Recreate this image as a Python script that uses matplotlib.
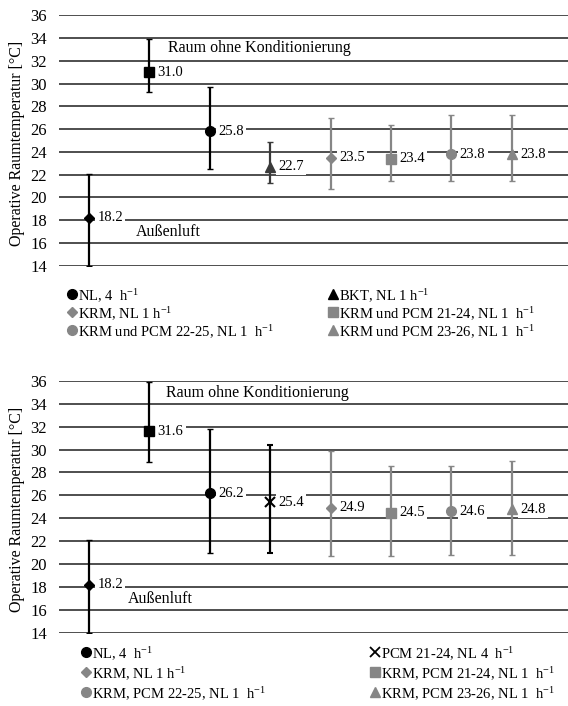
import matplotlib
matplotlib.use('Agg')
import matplotlib.pyplot as plt
from matplotlib.lines import Line2D

plt.rcParams['font.family'] = ['Liberation Serif', 'DejaVu Serif']
plt.rcParams['mathtext.fontset'] = 'custom'
plt.rcParams['mathtext.rm'] = 'Liberation Serif'
plt.rcParams['mathtext.it'] = 'Liberation Serif:italic'

BLACK = '#000000'
DARK = '#3a3a3a'
GRAY = '#868686'

# --- data: oberes Diagramm ---
top_mean = [18.2, 31.0, 25.8, 22.7, 23.5, 23.4, 23.8, 23.8]
top_lo = [14.0, 29.3, 22.5, 21.3, 20.7, 21.4, 21.4, 21.4]
top_hi = [22.1, 33.9, 29.7, 24.9, 27.0, 26.4, 27.2, 27.2]
top_markers = ['D', 's', 'o', '^', 'D', 's', 'o', '^']
top_colors = [BLACK, BLACK, BLACK, DARK, GRAY, GRAY, GRAY, GRAY]
top_legend = ['NL, 4  h$^{-1}$', 'KRM, NL 1 h$^{-1}$', 'KRM und PCM 22-25, NL 1  h$^{-1}$',
              'BKT, NL 1 h$^{-1}$', 'KRM und PCM 21-24, NL 1  h$^{-1}$', 'KRM und PCM 23-26, NL 1  h$^{-1}$']
top_leg_markers = ['o', 'D', 'o', '^', 's', '^']
top_leg_colors = [BLACK, GRAY, GRAY, BLACK, GRAY, GRAY]

# --- data: unteres Diagramm ---
bot_mean = [18.2, 31.6, 26.2, 25.4, 24.9, 24.5, 24.6, 24.8]
bot_lo = [14.0, 28.9, 21.0, 21.0, 20.7, 20.7, 20.8, 20.8]
bot_hi = [22.1, 35.9, 31.8, 30.4, 29.9, 28.6, 28.6, 29.0]
bot_markers = ['D', 's', 'o', 'x', 'D', 's', 'o', '^']
bot_colors = [BLACK, BLACK, BLACK, BLACK, GRAY, GRAY, GRAY, GRAY]
bot_legend = ['NL, 4  h$^{-1}$', 'KRM, NL 1 h$^{-1}$', 'KRM, PCM 22-25, NL 1  h$^{-1}$',
              'PCM 21-24, NL 4  h$^{-1}$', 'KRM, PCM 21-24, NL 1  h$^{-1}$', 'KRM, PCM 23-26, NL 1  h$^{-1}$']
bot_leg_markers = ['o', 'D', 'o', 'x', 's', '^']
bot_leg_colors = [BLACK, GRAY, GRAY, BLACK, GRAY, GRAY]

yticks = list(range(14, 37, 2))
MS = {'D': 5, 's': 6.5, 'o': 7, '^': 7, 'x': 7}

W, H = 568, 706
fig = plt.figure(figsize=(W / 100, H / 100), dpi=100)


def panel(ax, mean, lo, hi, markers, colors, raum, aussen):
    ax.set_xlim(0.51, 8.93)
    ax.set_ylim(14, 36)
    for s in ax.spines.values():
        s.set_visible(False)
    ax.set_xticks([])
    ax.set_yticks(yticks)
    ax.tick_params(axis='y', length=0, pad=9, labelsize=12)
    for t in yticks:
        ax.axhline(t, color='#1e1e1e', lw=1.1, zorder=0)
    for i, (m, l, h, mk, c) in enumerate(zip(mean, lo, hi, markers, colors)):
        x = i + 1
        ax.errorbar(x, m, yerr=[[m - l], [h - m]], fmt=mk, color=c, ms=MS[mk],
                    mew=1.5 if mk == 'x' else 1, ecolor=c, elinewidth=1.6,
                    capsize=2, capthick=1.5, zorder=3)
        ax.annotate(f'{m:.1f}', (x, m), xytext=(6, 0), textcoords='offset points',
                    va='center', ha='left', fontsize=10.5, zorder=2,
                    bbox=dict(boxstyle='square,pad=0.15', fc='white', ec='none'))
    ax.text(raum[0], raum[1], 'Raum ohne Konditionierung', fontsize=11.5, va='center')
    ax.text(aussen[0], aussen[1], 'Außenluft', fontsize=11.5, va='center')
    ax.set_ylabel('Operative Raumtemperatur [°C]', fontsize=11.5)
    ax.yaxis.set_label_coords(-0.067, 0.49)


def legend(labels, mks, cols, xs, ys):
    for k, (lab, mk, c) in enumerate(zip(labels, mks, cols)):
        px = xs[k // 3]
        py = ys[k % 3]
        fig.add_artist(Line2D([px / W], [1 - py / H], marker=mk, color=c, ls='none',
                              ms=MS[mk], mew=1.3 if mk == 'x' else 1,
                              transform=fig.transFigure))
        fig.text((px + 6) / W, 1 - py / H, lab, fontsize=10.5, va='center_baseline', ha='left')


ax1 = fig.add_axes([59.3 / W, 1 - 265.7 / H, (W - 59.3) / W, 250.4 / H])
panel(ax1, top_mean, top_lo, top_hi, top_markers, top_colors, (2.31, 33.1), (1.77, 17.0))
legend(top_legend, top_leg_markers, top_leg_colors, [72, 333], [294, 312, 330])

ax2 = fig.add_axes([59.3 / W, 1 - 633 / H, (W - 59.3) / W, 252.3 / H])
panel(ax2, bot_mean, bot_lo, bot_hi, bot_markers, bot_colors, (2.27, 34.9), (1.645, 17.0))
legend(bot_legend, bot_leg_markers, bot_leg_colors, [86, 375], [652, 672, 692])

fig.savefig('out.png', dpi=100, facecolor='white')
